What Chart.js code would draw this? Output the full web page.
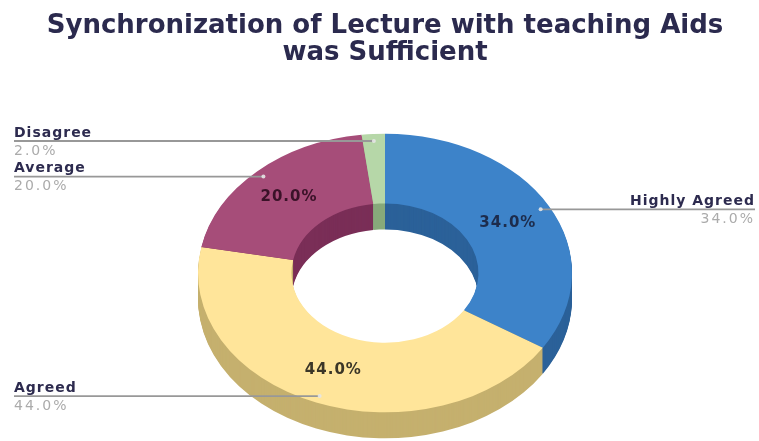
<!DOCTYPE html>
<html>
<head>
<meta charset="utf-8">
<script src="https://cdn.jsdelivr.net/npm/chart.js@4.4.1/dist/chart.umd.min.js"></script>
<style>
  html, body { margin: 0; padding: 0; background: #fff; }
  #wrap { width: 759px; height: 441px; }
</style>
</head>
<body>
<div id="wrap"><canvas id="chart"></canvas></div>
<script>
// data
const titleLines = ["Synchronization of Lecture with teaching Aids", "was Sufficient"];
const categories = ["Highly Agreed", "Agreed", "Average", "Disagree"];
const values = [34, 44, 20, 2];
const topColors = ["#3d83c9", "#ffe59a", "#a64d79", "#b6d7a8"];
const sideColors = ["#2b6199", "#c5b06e", "#7a2e57", "#87a97b"];
const pctColors = ["#1d2c4c", "#3b3627", "#3a1228", "#333333"];

// fake 3d: squash the ring and stack it a few px deep
const TILT = 0.745;
const DEPTH = 26;
const SHIFT = 19;

const pie3d = {
  id: "pie3d",
  beforeDatasetsDraw(chart) {
    const ctx = chart.ctx;
    const arcs = chart.getDatasetMeta(0).data;
    const cy = arcs[0].y;
    const paint = (dy, cols) => {
      ctx.save();
      ctx.translate(0, cy + SHIFT + dy);
      ctx.scale(1, TILT);
      ctx.translate(0, -cy);
      arcs.forEach((arc, i) => {
        const o = arc.options;
        arc.options = Object.assign({}, o, { backgroundColor: cols[i], borderWidth: 0 });
        arc.draw(ctx);
        arc.options = o;
      });
      ctx.restore();
    };
    for (let d = DEPTH; d > 0; d--) paint(d, sideColors);
    paint(0, topColors);
    return false;
  },
  afterDraw(chart) {
    const ctx = chart.ctx;
    const arcs = chart.getDatasetMeta(0).data;
    const cy = arcs[0].y;
    const total = values.reduce((a, b) => a + b, 0);
    arcs.forEach((arc, i) => {
      const mid = (arc.startAngle + arc.endAngle) / 2;
      const pct = (values[i] / total * 100).toFixed(1) + "%";

      // value inside the slice
      if (values[i] >= 5) {
        const rm = (arc.innerRadius + arc.outerRadius) / 2;
        ctx.font = "bold 15px 'DejaVu Sans'";
        ctx.letterSpacing = "1px";
        ctx.fillStyle = pctColors[i];
        ctx.textAlign = "center";
        ctx.textBaseline = "middle";
        ctx.fillText(pct, arc.x + Math.cos(mid) * rm, cy + SHIFT + Math.sin(mid) * rm * TILT);
      }

      // leader line + outside label
      const ra = arc.outerRadius * 0.95;
      const ax = arc.x + Math.cos(mid) * ra;
      const ay = cy + SHIFT + Math.sin(mid) * ra * TILT;
      const right = Math.cos(mid) > 0;
      const ex = right ? chart.width - 4 : 14;
      ctx.strokeStyle = "#989898";
      ctx.lineWidth = 1.8;
      ctx.beginPath();
      ctx.moveTo(ax, ay);
      ctx.lineTo(ex, ay);
      ctx.stroke();
      ctx.fillStyle = "rgba(230,230,230,0.9)";
      ctx.beginPath();
      ctx.arc(ax, ay, 2, 0, Math.PI * 2);
      ctx.fill();

      ctx.textAlign = right ? "right" : "left";
      ctx.font = "bold 14px 'DejaVu Sans'";
      ctx.letterSpacing = "1px";
      ctx.fillStyle = "#2d2b4f";
      ctx.textBaseline = "bottom";
      ctx.fillText(categories[i], ex, ay - 1);
      ctx.font = "14px 'DejaVu Sans'";
      ctx.letterSpacing = "2px";
      ctx.fillStyle = "#ababab";
      ctx.textBaseline = "top";
      ctx.fillText(pct, ex, ay + 3);
      ctx.letterSpacing = "0px";
    });
  }
};

new Chart(document.getElementById("chart"), {
  type: "doughnut",
  data: {
    labels: categories,
    datasets: [{
      data: values,
      backgroundColor: topColors,
      borderWidth: 0
    }]
  },
  options: {
    responsive: true,
    maintainAspectRatio: false,
    animation: false,
    events: [],
    cutout: "50%",
    layout: { padding: { left: 11, right: 0, top: 0, bottom: 0 } },
    plugins: {
      legend: { display: false },
      tooltip: { enabled: false },
      title: {
        display: true,
        text: titleLines,
        color: "#2b2a4e",
        font: { family: "'DejaVu Sans'", size: 26, weight: "bold", lineHeight: 1.04 },
        padding: { top: 13, bottom: 0 }
      }
    }
  },
  plugins: [pie3d]
});
</script>
</body>
</html>
